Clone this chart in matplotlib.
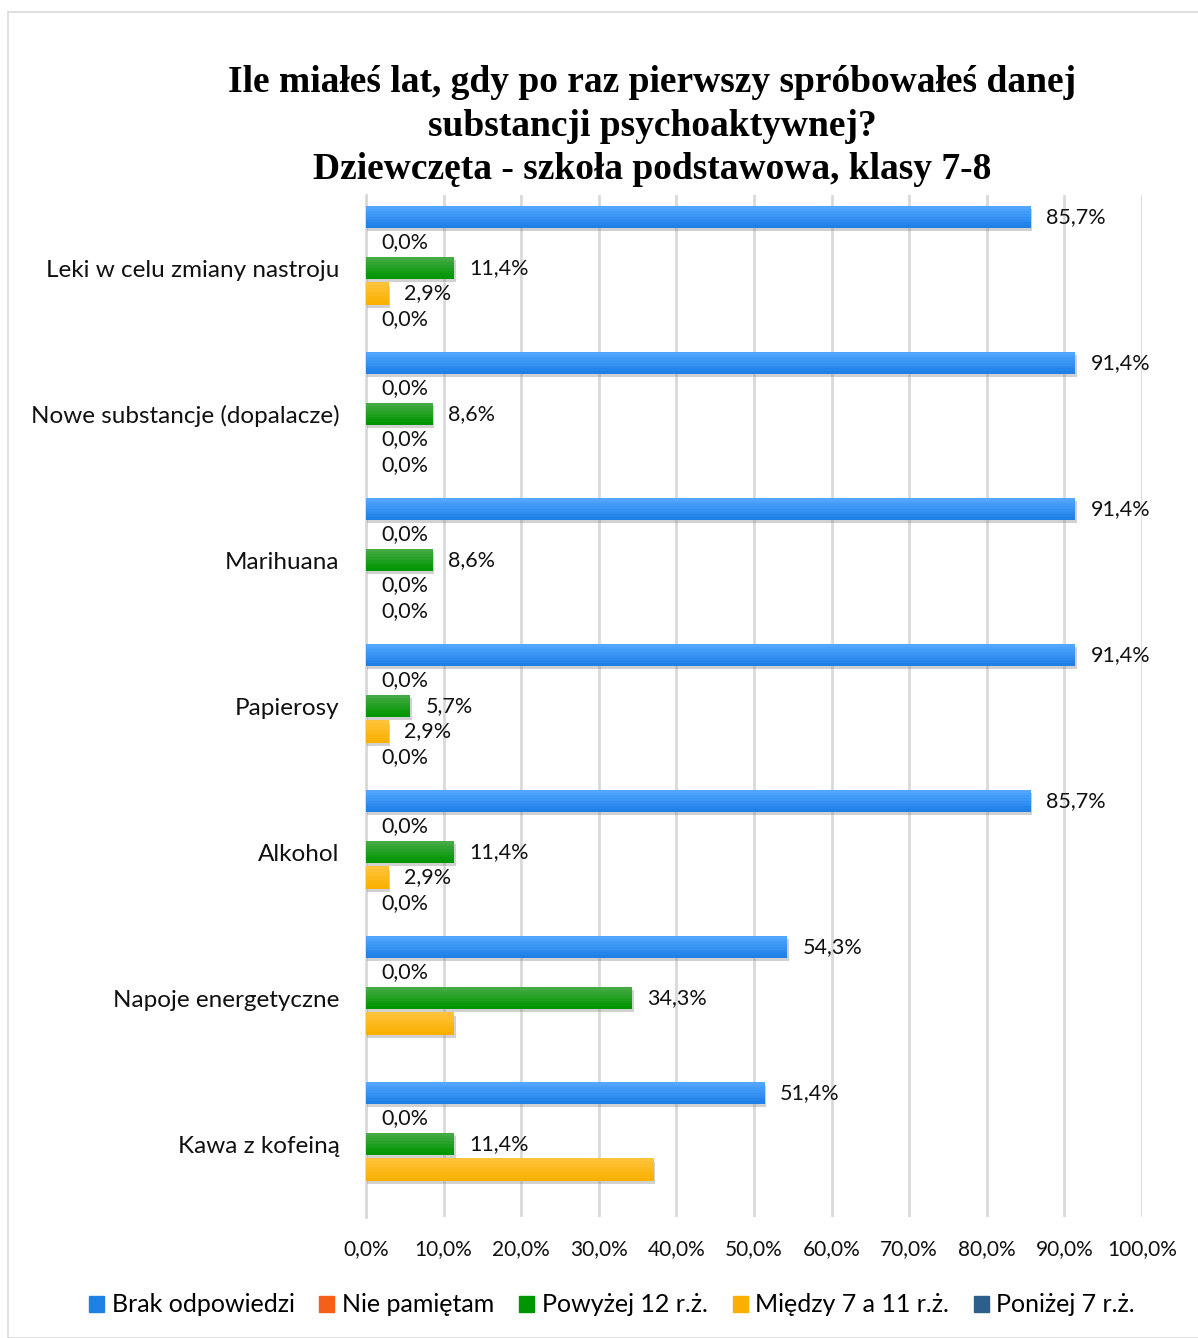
import matplotlib.pyplot as plt
import matplotlib.patheffects as pe
from matplotlib.patches import Rectangle
from matplotlib.colors import to_rgb
import numpy as np

categories = ["Leki w celu zmiany nastroju", "Nowe substancje (dopalacze)", "Marihuana",
              "Papierosy", "Alkohol", "Napoje energetyczne", "Kawa z kofeiną"]
series = ["Brak odpowiedzi", "Nie pamiętam", "Powyżej 12 r.ż.", "Między 7 a 11 r.ż.", "Poniżej 7 r.ż."]

brak = [85.7, 91.4, 91.4, 91.4, 85.7, 54.3, 51.4]
nie_pamietam = [0.0, 0.0, 0.0, 0.0, 0.0, 0.0, 0.0]
powyzej_12 = [11.4, 8.6, 8.6, 5.7, 11.4, 34.3, 11.4]
miedzy_7_11 = [2.9, 0.0, 0.0, 2.9, 2.9, 11.4, 37.1]
ponizej_7 = [0.0, 0.0, 0.0, 0.0, 0.0, 0.0, 0.0]

# which bars carry a data label (the last two groups miss some in the original)
show_label = [
    [True] * 7,
    [True] * 7,
    [True] * 7,
    [True, True, True, True, True, False, False],
    [True, True, True, True, True, False, False],
]

values = [brak, nie_pamietam, powyzej_12, miedzy_7_11, ponizej_7]
colors = ["#1F80E6", "#F4601A", "#009600", "#F9B000", "#2E5F8A"]
lights = ["#52A6FF", "#FF8A4A", "#44AA44", "#FFC33A", "#4E7DA8"]

W, H = 1198, 1338
fig = plt.figure(figsize=(W / 100, H / 100), dpi=100)
fig.patches.append(Rectangle((8 / W, 0), 1.2, 1 - 12 / H, transform=fig.transFigure,
                             fill=False, edgecolor="#D9D9D9", linewidth=1.2))

ax = fig.add_axes([366 / W, 1 - 1217 / H, (1142 - 366) / W, (1217 - 195) / H])

slot = 25.5 / 146
bar_h = 22 / 146
y_base = np.arange(len(categories))
n_strips = 8

for j, (vals, c, lc) in enumerate(zip(values, colors, lights)):
    ys = y_base + (j - 2) * slot
    ax.barh(ys, vals, height=bar_h, color=c, zorder=3, linewidth=0,
            path_effects=[pe.SimplePatchShadow(offset=(1, -2.5), shadow_rgbFace="#8C8C8C", alpha=0.4),
                          pe.Normal()])
    # vertical gradient, lighter at the top
    c0, c1 = np.array(to_rgb(lc)), np.array(to_rgb(c))
    sh = bar_h / n_strips
    for s in range(n_strips):
        t = s / (n_strips - 1)
        ax.barh(ys - bar_h / 2 + sh * (s + 0.5), vals, height=sh * 1.05,
                color=tuple(c0 * (1 - t) + c1 * t), zorder=4, linewidth=0)
    for k, (y, v) in enumerate(zip(ys, vals)):
        if show_label[j][k]:
            ax.annotate(f"{v:.1f}%".replace(".", ","), (v, y), xytext=(11, 0),
                        textcoords="offset points", va="center", ha="left",
                        fontsize=15.5, family="Lato", color="#111111", zorder=5)

ax.set_xlim(0, 100)
ax.set_ylim(len(categories) - 0.5, -0.5)
ax.set_xticks(np.arange(0, 101, 10))
ax.set_xticklabels([f"{t:.1f}%".replace(".", ",") for t in np.arange(0, 101, 10)],
                   fontsize=15, family="Lato", color="#111111")
ax.set_yticks(y_base)
ax.set_yticklabels(categories, fontsize=17.5, family="Lato", color="#111111")
ax.tick_params(axis="both", length=0)
ax.tick_params(axis="x", pad=16)
ax.tick_params(axis="y", pad=19)
ax.grid(axis="x", color="#D9D9D9", linewidth=2, zorder=0)
for s in ["top", "right", "bottom"]:
    ax.spines[s].set_visible(False)
ax.spines["left"].set_color("#D9D9D9")
ax.spines["left"].set_linewidth(2)

fig.text(652 / W, 1 - 126 / H,
         "Ile miałeś lat, gdy po raz pierwszy spróbowałeś danej\nsubstancji psychoaktywnej?\n"
         "Dziewczęta - szkoła podstawowa, klasy 7-8",
         ha="center", va="center", fontsize=27, fontweight="bold",
         family="Liberation Serif", linespacing=1.3)

handles = [Rectangle((0, 0), 1, 1, color=c) for c in colors]
fig.legend(handles, series, loc="center", bbox_to_anchor=(612 / W, 1 - 1305 / H), ncol=5,
           frameon=False, prop={"family": "Lato", "size": 18}, handlelength=0.6,
           handleheight=0.6, handletextpad=0.3, columnspacing=1.0)

fig.savefig("out.png", dpi=100)
